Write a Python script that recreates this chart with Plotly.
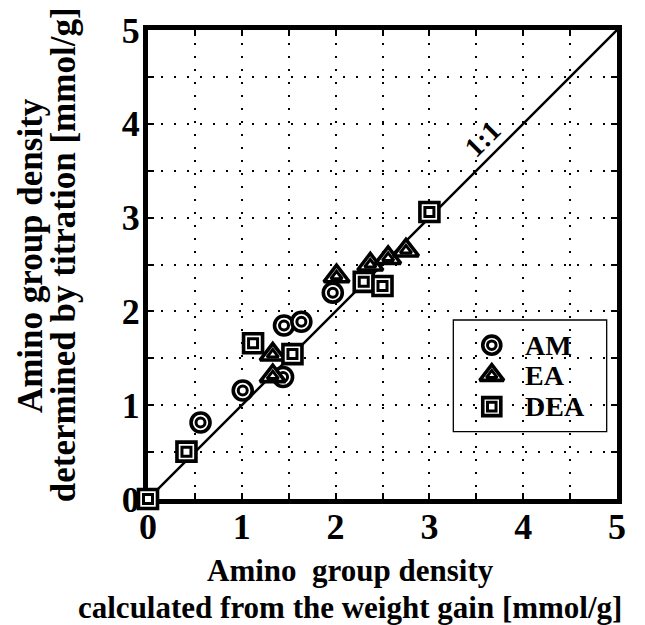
import plotly.graph_objects as go

# Amino group density: calculated from weight gain (x) vs. determined by titration (y), mmol/g
am_x = [0.56, 1.01, 1.44, 1.45, 1.635, 1.97]
am_y = [0.815, 1.157, 1.30, 1.85, 1.89, 2.20]

ea_x = [1.33, 1.33, 2.01, 2.37, 2.56, 2.75]
ea_y = [1.31, 1.54, 2.375, 2.50, 2.57, 2.65]

dea_x = [0.0, 0.41, 1.12, 1.54, 2.30, 2.50, 3.00]
dea_y = [0.0, 0.505, 1.66, 1.545, 2.315, 2.27, 3.06]

series_names = ["AM", "EA", "DEA"]
series_symbols = ["circle", "triangle-up", "square"]

tick_vals = [0, 1, 2, 3, 4, 5]
tick_text = ["0", "1", "2", "3", "4", "5"]
ref_line = [0, 5]

FONT = "Liberation Serif"

# marker sizes (outer, inner) per symbol
SIZES = {"circle": (19, 9), "triangle-up": (22, 10), "square": (19, 9)}

fig = go.Figure()

# 1:1 reference line
fig.add_trace(go.Scatter(x=ref_line, y=ref_line, mode="lines",
                         line=dict(color="black", width=2.5),
                         showlegend=False, hoverinfo="skip"))


def add_double_marker(x, y, symbol, scale=1.0, xaxis="x", yaxis="y"):
    """Concentric double symbol: white-filled outer outline with a smaller outline inside."""
    outer, inner = SIZES[symbol]
    fig.add_trace(go.Scatter(
        x=x, y=y, mode="markers", xaxis=xaxis, yaxis=yaxis,
        marker=dict(symbol=symbol, size=outer * scale, color="white",
                    line=dict(color="black", width=3.6)),
        showlegend=False, cliponaxis=False, hoverinfo="skip"))
    fig.add_trace(go.Scatter(
        x=x, y=y, mode="markers", xaxis=xaxis, yaxis=yaxis,
        marker=dict(symbol=symbol, size=inner * scale, color="white",
                    line=dict(color="black", width=3)),
        showlegend=False, cliponaxis=False, hoverinfo="skip"))


for xs, ys, sym in [(am_x, am_y, "circle"), (ea_x, ea_y, "triangle-up"), (dea_x, dea_y, "square")]:
    add_double_marker(xs, ys, sym)

# Legend drawn on an overlay axis spanning the plot area in [0, 1] fractions
legend_key_x = 0.733
legend_rows_y = [0.328, 0.264, 0.197]
legend_text_x = 0.80
for name, sym, ly in zip(series_names, series_symbols, legend_rows_y):
    add_double_marker([legend_key_x], [ly], sym, scale=0.95, xaxis="x2", yaxis="y2")
    fig.add_annotation(x=legend_text_x, y=ly, xref="x2", yref="y2", text=name,
                       showarrow=False, xanchor="left", yanchor="middle",
                       font=dict(family=FONT, size=28, color="black", weight="bold"))

fig.add_shape(type="rect", xref="paper", yref="paper",
              x0=0.651, x1=0.978, y0=0.1435, y1=0.3817,
              line=dict(color="black", width=1.3), fillcolor="rgba(0,0,0,0)", layer="below")

# "1:1" label along the diagonal
fig.add_annotation(x=3.57, y=3.84, text="1:1", showarrow=False, textangle=-45,
                   font=dict(family=FONT, size=28, color="black", weight="bold"))

# Axis titles (two lines each)
title_font_x = dict(family=FONT, size=31, color="black", weight="bold")
title_font_y = dict(family=FONT, size=35, color="black", weight="bold")
centered = dict(showarrow=False, xanchor="center", yanchor="middle",
                xref="paper", yref="paper")
fig.add_annotation(x=0.431, y=-0.1514, text="Amino  group density",
                   font=title_font_x, **centered)
fig.add_annotation(x=0.431, y=-0.2303, text="calculated from the weight gain [mmol/g]",
                   font=title_font_x, **centered)
fig.add_annotation(x=-0.2516, y=0.52, textangle=-90, text="Amino group density",
                   font=title_font_y, **centered)
fig.add_annotation(x=-0.181, y=0.52, textangle=-90, text="determined by titration [mmol/g]",
                   font=title_font_y, **centered)

axis_common = dict(
    range=[0, 5], tickvals=tick_vals, ticktext=tick_text,
    showline=True, linecolor="black", linewidth=5, mirror="allticks",
    ticks="inside", ticklen=6, tickwidth=2, tickcolor="black",
    showgrid=True, gridcolor="black", gridwidth=1.6, griddash="2px,11px",
    minor=dict(dtick=0.5, ticks="inside", ticklen=6, tickwidth=2, tickcolor="black",
               showgrid=True, gridcolor="black", gridwidth=1.6, griddash="2px,11px"),
    zeroline=False, layer="below traces",
    tickfont=dict(family=FONT, size=36, color="black", weight="bold"),
)

fig.update_layout(
    width=645, height=625,
    margin=dict(l=148, r=28, t=30, b=126),
    paper_bgcolor="white", plot_bgcolor="white",
    showlegend=False,
    xaxis=dict(**axis_common, ticklabelstandoff=-8),
    yaxis=dict(**axis_common, ticklabelstandoff=-4),
    xaxis2=dict(range=[0, 1], overlaying="x", visible=False),
    yaxis2=dict(range=[0, 1], overlaying="y", visible=False),
)

fig.write_html("out.html")
